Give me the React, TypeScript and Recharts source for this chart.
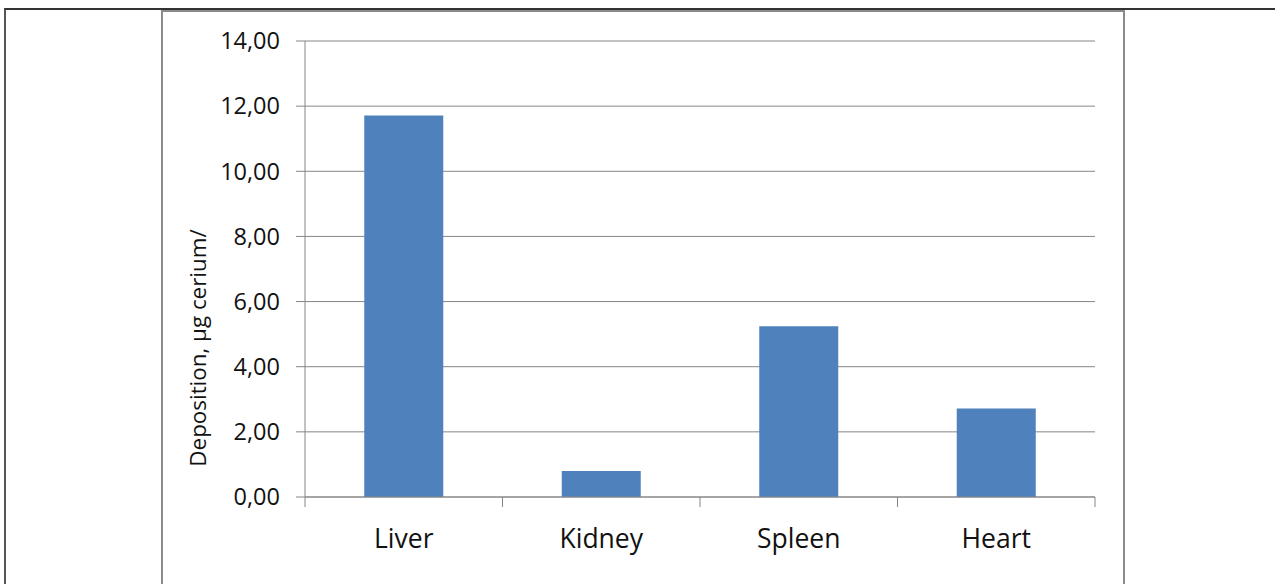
import React from 'react';
import { BarChart, Bar, XAxis, YAxis, CartesianGrid, Label } from 'recharts';

// Organ deposition values (µg cerium)
const organs = ['Liver', 'Kidney', 'Spleen', 'Heart'];
const deposition = [11.71, 0.8, 5.24, 2.72];
const yTicks = [0, 2, 4, 6, 8, 10, 12, 14];

const data = organs.map((organ, i) => ({ organ, value: deposition[i] }));

const FONT = '"Open Sans", "DejaVu Sans", sans-serif';
const AXIS_GRAY = '#868686';
const TEXT = '#111';

const fmt = (v: number) => v.toFixed(2).replace('.', ',');

// Category tick: label under the band plus boundary tick marks between bands
const CategoryTick = (props: any) => {
  const { x, y, payload, index, visibleTicksCount } = props;
  const half = payload && typeof payload.offset === 'number' ? payload.offset : 0;
  const last = index === (visibleTicksCount ?? organs.length) - 1;
  return (
    <g>
      <line x1={x - half} y1={y} x2={x - half} y2={y + 10} stroke={AXIS_GRAY} strokeWidth={1} />
      {last && <line x1={x + half} y1={y} x2={x + half} y2={y + 10} stroke={AXIS_GRAY} strokeWidth={1} />}
      <text x={x} y={y + 41} textAnchor="middle" dominantBaseline="central" fill={TEXT} fontSize={26.5} fontFamily={FONT}>
        {payload.value}
      </text>
    </g>
  );
};

const YTitle = (props: any) => {
  const vb = props.viewBox || {};
  const cx = (vb.x ?? 0) + 34;
  const cy = (vb.y ?? 0) + (vb.height ?? 0) / 2 + 79;
  return (
    <text
      x={cx}
      y={cy}
      transform={`rotate(-90 ${cx} ${cy})`}
      textAnchor="middle"
      dominantBaseline="central"
      fill={TEXT}
      fontSize={22.4}
      fontFamily={FONT}
    >
      Deposition, µg cerium/
    </text>
  );
};

export default function App() {
  return (
    <div style={{ position: 'absolute', left: 0, top: 0, width: 1275, height: 584, overflow: 'hidden', background: '#fff' }}>
      {/* outer frame */}
      <div
        style={{
          position: 'absolute',
          left: 4,
          top: 8,
          width: 1280,
          height: 600,
          borderTop: '2px solid #333',
          borderLeft: '2px solid #555',
        }}
      />
      {/* chart frame */}
      <div
        style={{
          position: 'absolute',
          left: 161,
          top: 10,
          width: 960,
          height: 600,
          borderTop: '2px solid #8a8a8a',
          borderLeft: '2px solid #8a8a8a',
          borderRight: '2px solid #8a8a8a',
          background: '#fff',
        }}
      >
        <BarChart
          width={960}
          height={574}
          data={data}
          margin={{ top: 29, right: 28, left: 0, bottom: 0 }}
          barCategoryGap="30%"
        >
          <CartesianGrid horizontal vertical={false} stroke={AXIS_GRAY} strokeWidth={1} />
          <XAxis
            dataKey="organ"
            height={89}
            axisLine={{ stroke: AXIS_GRAY, strokeWidth: 1 }}
            tickLine={false}
            tickSize={0}
            tickMargin={0}
            interval={0}
            tick={<CategoryTick />}
          />
          <YAxis
            width={142}
            domain={[0, 14]}
            ticks={yTicks}
            interval={0}
            tickFormatter={fmt}
            axisLine={{ stroke: AXIS_GRAY, strokeWidth: 1 }}
            tickLine={{ stroke: AXIS_GRAY, strokeWidth: 1 }}
            tickSize={9}
            tickMargin={16}
            tick={{ fill: TEXT, fontSize: 23.5, fontFamily: FONT }}
          >
            <Label content={<YTitle />} />
          </YAxis>
          <Bar dataKey="value" fill="#4F81BD" isAnimationActive={false} />
        </BarChart>
      </div>
    </div>
  );
}
